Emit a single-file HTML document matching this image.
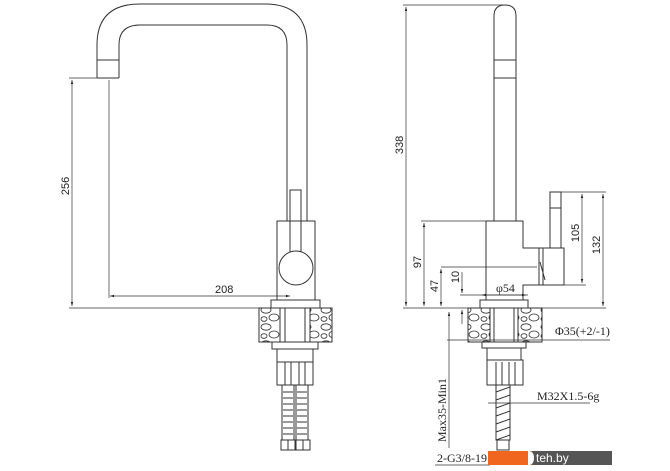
<!DOCTYPE html>
<html><head><meta charset="utf-8"><style>
html,body{margin:0;padding:0;background:#fff;width:670px;height:471px;overflow:hidden}
svg{display:block}
text{font-family:"Liberation Sans",sans-serif;font-size:11px;fill:#222}
.s{font-family:"Liberation Serif",serif;font-size:12px}
</style></head><body>
<svg width="670" height="471" viewBox="0 0 670 471" xmlns="http://www.w3.org/2000/svg">
<defs>
<marker id="a" viewBox="0 0 10 10" refX="10" refY="5" markerWidth="6" markerHeight="6" orient="auto-start-reverse"><path d="M0,2 L10,5 L0,8z" fill="#222"/></marker>
<pattern id="st" width="20" height="17" patternUnits="userSpaceOnUse"><rect width="20" height="17" fill="#fff"/><ellipse cx="6" cy="4" rx="5" ry="3.2" fill="none" stroke="#333" stroke-width="0.8"/><ellipse cx="14" cy="11.5" rx="5" ry="3.5" fill="none" stroke="#333" stroke-width="0.8"/><ellipse cx="4" cy="13" rx="3" ry="2.3" fill="none" stroke="#333" stroke-width="0.8"/></pattern>
</defs>
<g fill="none" stroke="#333" stroke-width="1">
<path d="M97,78 L97,45 Q97,4 140,4 L265,4 Q307,4 307,45 L307,221"/>
<path d="M119,78 L119,45 Q119,25 140,25 L267,25 Q287,25 287,45 L287,221"/>
<line x1="97" y1="60" x2="119" y2="60"/>
<line x1="97" y1="78" x2="119" y2="78"/>
<rect x="277" y="221" width="38" height="79"/>
<rect x="290" y="190" width="11" height="31"/>
<line x1="290" y1="221" x2="290" y2="252"/><line x1="301" y1="221" x2="301" y2="252"/>
<circle cx="296" cy="268" r="17" fill="#fff"/>
<rect x="271" y="300" width="49" height="8"/>
<rect x="259" y="308" width="73" height="34" fill="url(#st)"/>
<rect x="280" y="308" width="30" height="34" fill="#fff"/>
<line x1="285" y1="308" x2="285" y2="342"/><line x1="305" y1="308" x2="305" y2="342"/>
<rect x="272" y="342" width="46" height="7"/>
<rect x="277" y="349" width="36" height="13"/>
<rect x="277" y="362" width="36" height="23"/>
<line x1="285" y1="362" x2="285" y2="385"/><line x1="291" y1="362" x2="291" y2="385"/><line x1="299" y1="362" x2="299" y2="385"/><line x1="305" y1="362" x2="305" y2="385"/>
<rect x="282" y="385" width="12" height="55"/><rect x="296" y="385" width="12" height="55"/>
<path d="M283,392 h10 M283,398 h10 M283,404 h10 M283,410 h10 M283,416 h10 M283,422 h10 M283,428 h10 M283,434 h10 M297,392 h10 M297,398 h10 M297,404 h10 M297,410 h10 M297,416 h10 M297,422 h10 M297,428 h10 M297,434 h10"/>
<rect x="281" y="440" width="14" height="10"/><rect x="296" y="440" width="14" height="10"/>
<line x1="288" y1="440" x2="288" y2="450"/><line x1="303" y1="440" x2="303" y2="450"/>
<line x1="69" y1="78" x2="97" y2="78" stroke-width="0.7"/>
<line x1="69" y1="308" x2="259" y2="308" stroke-width="0.7"/>
<line x1="72" y1="80" x2="72" y2="306" stroke-width="0.7" marker-start="url(#a)" marker-end="url(#a)"/>
<line x1="109" y1="80" x2="109" y2="298" stroke-width="0.7"/>
<line x1="110" y1="296" x2="290" y2="296" stroke-width="0.7" marker-start="url(#a)" marker-end="url(#a)"/>

<path d="M494,221 L494,16 Q494,5 505,5 Q516,5 516,16 L516,221"/>
<line x1="494" y1="60" x2="516" y2="60"/><line x1="494" y1="78" x2="516" y2="78"/>
<path d="M486,221 L523,221 L523,248 L539,248 L539,285 L523,285 L523,300"/>
<line x1="486" y1="221" x2="486" y2="300"/>
<rect x="539" y="248" width="25" height="37"/>
<line x1="543" y1="248" x2="543" y2="285"/>
<path d="M540,262 L545,280"/>
<rect x="550" y="192" width="11" height="56"/>
<line x1="550" y1="208" x2="561" y2="208"/>
<rect x="480" y="300" width="48" height="8"/>
<rect x="468" y="308" width="74" height="34" fill="url(#st)"/>
<rect x="490" y="308" width="28" height="34" fill="#fff"/>
<line x1="494" y1="308" x2="494" y2="342"/><line x1="514" y1="308" x2="514" y2="342"/>
<rect x="482" y="342" width="44" height="6"/>
<rect x="487" y="348" width="34" height="12"/>
<rect x="487" y="360" width="36" height="25"/>
<line x1="496" y1="362" x2="496" y2="385"/><line x1="502" y1="362" x2="502" y2="385"/><line x1="509" y1="362" x2="509" y2="385"/><line x1="515" y1="362" x2="515" y2="385"/>
<rect x="496" y="385" width="14" height="55"/>
<path d="M496,392 l14,-5 M496,400 l14,-5 M496,408 l14,-5 M496,416 l14,-5 M496,424 l14,-5 M496,432 l14,-5 M496,440 l14,-5"/>
<rect x="497" y="440" width="12" height="10"/>
<line x1="403" y1="5" x2="505" y2="5" stroke-width="0.7"/>
<line x1="403" y1="308" x2="468" y2="308" stroke-width="0.7"/>
<line x1="542" y1="308" x2="606" y2="308" stroke-width="0.7"/>
<line x1="406" y1="7" x2="406" y2="306" stroke-width="0.7" marker-start="url(#a)" marker-end="url(#a)"/>
<line x1="421" y1="221" x2="486" y2="221" stroke-width="0.7"/>
<line x1="424" y1="223" x2="424" y2="306" stroke-width="0.7" marker-start="url(#a)" marker-end="url(#a)"/>
<line x1="441" y1="267" x2="537" y2="267" stroke-width="0.7"/>
<line x1="441" y1="269" x2="441" y2="306" stroke-width="0.7" marker-start="url(#a)" marker-end="url(#a)"/>
<line x1="462" y1="272" x2="462" y2="293" stroke-width="0.7" marker-end="url(#a)"/>
<line x1="462" y1="324" x2="462" y2="310" stroke-width="0.7" marker-end="url(#a)"/>
<line x1="460" y1="295" x2="528" y2="295" stroke-width="0.7"/>
<line x1="482" y1="295" x2="526" y2="295" stroke-width="0.7" marker-start="url(#a)" marker-end="url(#a)"/>
<line x1="561" y1="192" x2="606" y2="192" stroke-width="0.7"/>
<line x1="564" y1="285" x2="586" y2="285" stroke-width="0.7"/>
<line x1="582" y1="194" x2="582" y2="283" stroke-width="0.7" marker-start="url(#a)" marker-end="url(#a)"/>
<line x1="603" y1="194" x2="603" y2="306" stroke-width="0.7" marker-start="url(#a)" marker-end="url(#a)"/>
<line x1="447" y1="340" x2="610" y2="340" stroke-width="0.7"/>
<line x1="449" y1="312" x2="449" y2="448" stroke-width="0.7" marker-start="url(#a)"/>
<line x1="488" y1="403" x2="590" y2="403" stroke-width="0.7"/>
<line x1="435" y1="465" x2="490" y2="465" stroke-width="0.7"/>
</g>
<text x="215" y="293" font-size="10">208</text>
<text transform="translate(69,186) rotate(-90)" text-anchor="middle" font-size="10">256</text>
<text transform="translate(403,145) rotate(-90)" text-anchor="middle" font-size="10">338</text>
<text transform="translate(421,262) rotate(-90)" text-anchor="middle" font-size="10">97</text>
<text transform="translate(438,286) rotate(-90)" text-anchor="middle" font-size="10">47</text>
<text transform="translate(459,277) rotate(-90)" text-anchor="middle" font-size="10">10</text>
<text transform="translate(579,233) rotate(-90)" text-anchor="middle" font-size="10">105</text>
<text transform="translate(600,245) rotate(-90)" text-anchor="middle" font-size="10">132</text>
<text x="496" y="292" class="s" font-size="11">φ54</text>
<text x="555" y="335" class="s" font-size="11">Φ35(+2/-1)</text>
<text x="537" y="400" class="s" font-size="10">M32X1.5-6g</text>
<text x="437" y="462" class="s" font-size="10">2-G3/8-19</text>
<text transform="translate(446,410) rotate(-90)" text-anchor="middle" class="s" font-size="10">Max35-Min1</text>
<rect x="488" y="451" width="44" height="14" fill="#f0661e"/>
<rect x="532" y="451" width="80" height="14" fill="#555"/>
<path d="M528,451 q6,0 6,7 q0,7 -6,7z" fill="#fff"/>
<text x="536" y="462" fill="#fff" style="fill:#fff;font-size:12px">teh.by</text>
</svg>
</body></html>
